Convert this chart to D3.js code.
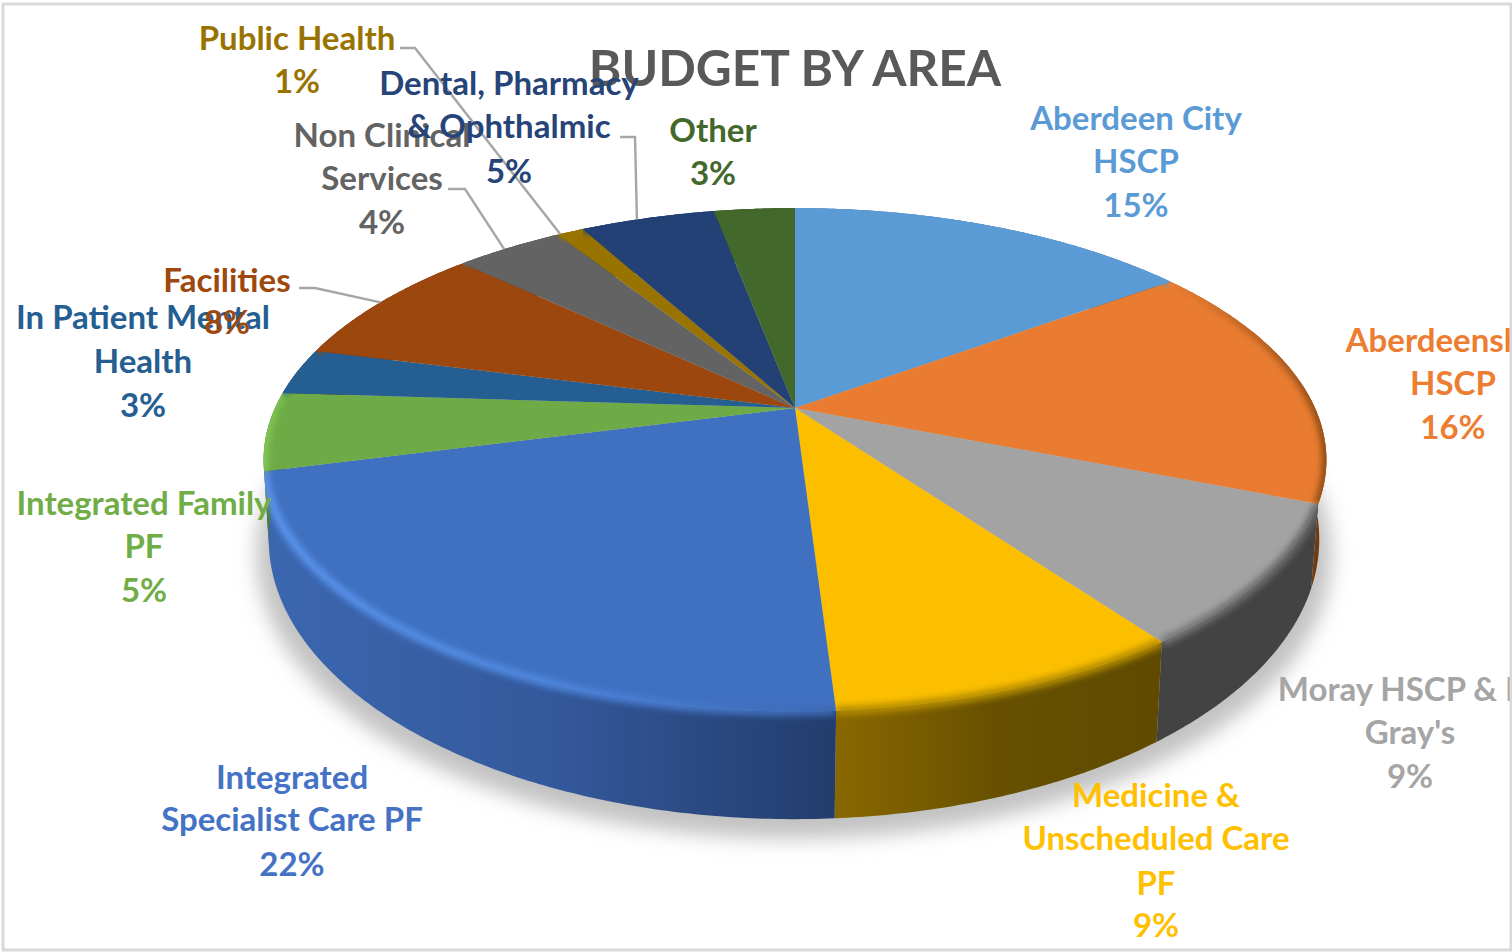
<!DOCTYPE html>
<html>
<head>
<meta charset="utf-8">
<script src="https://cdn.jsdelivr.net/npm/d3@7"></script>
<style>
  html, body { margin: 0; padding: 0; background: #fff; overflow: hidden; }
  svg { display: block; }
  text { font-family: Lato, "Open Sans", sans-serif; font-weight: 700; }
</style>
</head>
<body>
<svg id="chart" width="1512" height="952"></svg>
<script>
// Budget shares, in percent, clockwise from twelve o'clock.
const categories = ["Aberdeen City HSCP", "Aberdeenshire HSCP", "Moray HSCP & Dr Gray's",
  "Medicine & Unscheduled Care PF", "Integrated Specialist Care PF", "Integrated Family PF",
  "In Patient Mental Health", "Facilities", "Non Clinical Services", "Public Health",
  "Dental, Pharmacy & Ophthalmic", "Other"];
const shares = [15, 16, 9, 9, 22, 5, 3, 8, 4, 1, 5, 3];

const labelLines = [
  ["Aberdeen City", "HSCP"], ["Aberdeenshire", "HSCP"], ["Moray HSCP & Dr", "Gray's"],
  ["Medicine &", "Unscheduled Care", "PF"], ["Integrated", "Specialist Care PF"],
  ["Integrated Family", "PF"], ["In Patient Mental", "Health"], ["Facilities"],
  ["Non Clinical", "Services"], ["Public Health"], ["Dental, Pharmacy", "& Ophthalmic"], ["Other"]
];

// Slice styling
const faceColors = ["#5b9bd5", "#e97c30", "#a3a3a3", "#fbbf00", "#4070c0", "#6eab46",
  "#255e91", "#9c470d", "#636363", "#997300", "#234175", "#43682b"];
const textColors = ["#5b9bd5", "#ed7d31", "#a5a5a5", "#ffc000", "#4472c4", "#70ad47",
  "#255e91", "#9e480e", "#636363", "#997300", "#264478", "#43682b"];
const wallStops = [
  ["#3a5f8f", "#3a5f8f"], ["#8a4a16", "#6e3a10"], ["#434343", "#434343"],
  ["#8a6800", "#665000", "#5f4a00"], ["#3b67b0", "#34599c", "#233c6c"], ["#4a7a30", "#4a7a30"],
  ["#1a4268", "#1a4268"], ["#6e320a", "#6e320a"], ["#444", "#444"],
  ["#6b5000", "#6b5000"], ["#1a2f54", "#1a2f54"], ["#2f4a1e", "#2f4a1e"]
];
const rimStops = [
  ["#5b9bd5", "#5b9bd5"], ["#e97c30", "#8a4a16"], ["#777", "#666"],
  ["#b48c00", "#b48c00"], ["#5a93ec", "#4e86de", "#3c68b2"], ["#83c856", "#7bbf4e"],
  ["#255e91", "#255e91"], ["#9c470d", "#9c470d"], ["#636363", "#636363"],
  ["#997300", "#997300"], ["#234175", "#234175"], ["#43682b", "#43682b"]
];

// Label placement: centre x and one baseline per line, the last line being the percentage.
const labelCentres = [1136, 1453, 1410, 1156, 292, 144, 143, 227, 382, 297, 509, 713];
const labelBaselines = [
  [130, 173, 217], [352, 395, 439], [701, 744, 788], [807, 850, 895, 937], [789, 831, 876],
  [515, 558, 602], [329, 373, 417], [292, 334], [147, 190, 234], [50, 93], [95, 138, 183], [142, 185]
];

// Leader lines: label start point, elbow, and where along the slice's rim they land.
const leaders = [
  { slice: 7, start: [299, 288], elbow: [315, 288], along: 0.5 },
  { slice: 8, start: [448, 189], elbow: [465, 189], along: 0.45 },
  { slice: 9, start: [400, 48], elbow: [415, 48], along: 0.1 },
  { slice: 10, start: [620, 137], elbow: [635, 137], along: 0.42 }
];

// Perspective planes of the disc: a circle seen from above and in front.
const tilt = 0.206;
const topPlane = { cx: 795, cy: 408, rx: 520, ry: 241 };
const basePlane = { cx: 794, cy: 482, rx: 514, ry: 267.7 };
const shadowPlane = { cx: 794, cy: 496, rx: 526, ry: 272 };

function project(plane, angle) {
  const w = 1 + tilt * Math.cos(angle);
  return [plane.cx + plane.rx * Math.sin(angle) / w, plane.cy - plane.ry * Math.cos(angle) / w];
}

const slices = d3.pie().sort(null).startAngle(0).endAngle(2 * Math.PI)(shares);
const lineGen = d3.line();
const arcAngles = (a0, a1) => {
  const n = Math.max(4, Math.ceil((a1 - a0) / 0.01));
  return d3.range(n + 1).map(i => a0 + (a1 - a0) * i / n);
};
const rimPoints = (plane, a0, a1) => arcAngles(a0, a1).map(a => project(plane, a));
const closed = pts => lineGen(pts) + "Z";

const svg = d3.select("#chart");
const defs = svg.append("defs");

defs.append("filter").attr("id", "shadowBlur")
  .attr("filterUnits", "userSpaceOnUse")
  .attr("x", 0).attr("y", 0).attr("width", 1512).attr("height", 952)
  .append("feGaussianBlur").attr("stdDeviation", 10);
defs.append("filter").attr("id", "rimBlur")
  .attr("filterUnits", "userSpaceOnUse")
  .attr("x", 0).attr("y", 0).attr("width", 1512).attr("height", 952)
  .append("feGaussianBlur").attr("stdDeviation", 3);

function addGradient(id, stops) {
  const g = defs.append("linearGradient").attr("id", id)
    .attr("x1", 0).attr("x2", 1).attr("y1", 0).attr("y2", 0);
  stops.forEach((c, i) => g.append("stop")
    .attr("offset", i / (stops.length - 1)).attr("stop-color", c));
}
slices.forEach((s, i) => {
  addGradient("wall" + i, wallStops[i]);
  addGradient("rim" + i, rimStops[i]);
});

// Page background
svg.append("rect").attr("width", 1512).attr("height", 952).attr("fill", "#fff");

// Soft shadow under the disc
svg.append("path")
  .attr("d", closed(rimPoints(shadowPlane, 0, 2 * Math.PI)))
  .attr("fill", "#c2c2c2")
  .attr("filter", "url(#shadowBlur)");

const facePath = s => closed([[topPlane.cx, topPlane.cy], ...rimPoints(topPlane, s.startAngle, s.endAngle)]);
const wallPath = s => closed([
  ...rimPoints(topPlane, s.startAngle, s.endAngle),
  ...rimPoints(basePlane, s.startAngle, s.endAngle).reverse()
]);

// Side walls
svg.append("g").selectAll("path").data(slices).join("path")
  .attr("d", wallPath)
  .attr("fill", (s, i) => `url(#wall${i})`);

// Top faces
svg.append("g").selectAll("path").data(slices).join("path")
  .attr("d", facePath)
  .attr("fill", (s, i) => faceColors[i]);

// Soft bevel along the rim, kept inside each slice
slices.forEach((s, i) => {
  defs.append("clipPath").attr("id", "clip" + i)
    .append("path").attr("d", facePath(s) + wallPath(s));
  svg.append("g").attr("clip-path", `url(#clip${i})`)
    .append("path")
    .attr("d", lineGen(rimPoints(topPlane, s.startAngle, s.endAngle)))
    .attr("fill", "none")
    .attr("stroke", `url(#rim${i})`)
    .attr("stroke-width", 9)
    .attr("filter", "url(#rimBlur)");
});

// Title
svg.append("text")
  .attr("x", 795).attr("y", 86)
  .attr("text-anchor", "middle")
  .attr("font-size", 49.5)
  .attr("fill", "#595959")
  .text("BUDGET BY AREA");

// Leader lines
svg.append("g").selectAll("path").data(leaders).join("path")
  .attr("d", d => {
    const s = slices[d.slice];
    const end = project(topPlane, s.startAngle + (s.endAngle - s.startAngle) * d.along);
    return lineGen([d.start, d.elbow, end]);
  })
  .attr("fill", "none")
  .attr("stroke", "#a6a6a6")
  .attr("stroke-width", 2.4);

// Data labels: name lines followed by the percentage
const labels = svg.append("g").selectAll("text").data(slices).join("text")
  .attr("text-anchor", "middle")
  .attr("font-size", 33)
  .attr("fill", (s, i) => textColors[i]);
labels.each(function (s, i) {
  const lines = [...labelLines[i], d3.format(".0f")(s.value) + "%"];
  d3.select(this).selectAll("tspan").data(lines).join("tspan")
    .attr("x", labelCentres[i])
    .attr("y", (t, k) => labelBaselines[i][k])
    .text(t => t);
});

// Frame drawn last so that long labels stop at it
svg.append("rect")
  .attr("x", 3).attr("y", 4).attr("width", 1508).attr("height", 946)
  .attr("fill", "none").attr("stroke", "#d9d9d9").attr("stroke-width", 3);
</script>
</body>
</html>
